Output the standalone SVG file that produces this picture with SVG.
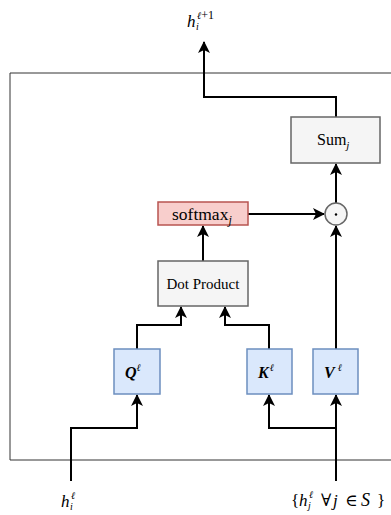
<svg xmlns="http://www.w3.org/2000/svg" width="391" height="515" viewBox="0 0 391 515">
  <style>
    .wire { fill: none; stroke: #000; stroke-width: 2; }
    .grey { fill: #f5f5f5; stroke: #666; stroke-width: 1.5; }
    .red { fill: #f8cecc; stroke: #b85450; stroke-width: 1.5; }
    .blue { fill: #dae8fc; stroke: #6c8ebf; stroke-width: 1.5; }
    text { font-family: "Liberation Serif", "DejaVu Serif", serif; fill: #000; }
    .lbl { text-anchor: middle; }
    .math { font-style: italic; }
  </style>
  <defs>
    <marker id="arrow" viewBox="0 0 12 12" refX="11" refY="6" markerWidth="12" markerHeight="12" markerUnits="userSpaceOnUse" orient="auto">
      <path d="M0,0 L12,6 L0,12 L3,6 Z" fill="#000"/>
    </marker>
  </defs>

  <!-- enclosing layer frame -->
  <path d="M395,73 H10 V460 H395" fill="none" stroke="#333" stroke-width="1"/>

  <g id="connectors">
    <!-- Sum to output -->
    <path class="wire" d="M336,117 V97 H204 V42" marker-end="url(#arrow)"/>
    <!-- product to Sum -->
    <path class="wire" d="M336,203 V164" marker-end="url(#arrow)"/>
    <!-- softmax to product -->
    <path class="wire" d="M248,214 H324" marker-end="url(#arrow)"/>
    <!-- Dot Product to softmax -->
    <path class="wire" d="M203,261 V226" marker-end="url(#arrow)"/>
    <!-- V to product -->
    <path class="wire" d="M336,349 V226" marker-end="url(#arrow)"/>
    <!-- Q to Dot Product -->
    <path class="wire" d="M137,349 V325 H181 V307" marker-end="url(#arrow)"/>
    <!-- K to Dot Product -->
    <path class="wire" d="M269,349 V325 H225 V307" marker-end="url(#arrow)"/>
    <!-- h_i input to Q -->
    <path class="wire" d="M71,481 V428 H137 V395" marker-end="url(#arrow)"/>
    <!-- neighbour set to V and K -->
    <path class="wire" d="M336,481 V395" marker-end="url(#arrow)"/>
    <path class="wire" d="M336,428 H269 V395" marker-end="url(#arrow)"/>
  </g>

  <g id="sum">
    <rect class="grey" x="291" y="117" width="89" height="46"/>
    <text x="317" y="145" font-size="16">Sum<tspan class="math" font-size="11" dy="4">j</tspan></text>
  </g>

  <g id="hadamard">
    <circle class="grey" cx="336" cy="214" r="11"/>
    <circle cx="336" cy="214.5" r="1.2" fill="#000"/>
  </g>

  <g id="softmax">
    <rect class="red" x="158" y="202" width="90" height="23"/>
    <text x="172" y="220" font-size="17.5">softmax<tspan class="math" font-size="12" dy="4">j</tspan></text>
  </g>

  <g id="dot-product">
    <rect class="grey" x="158" y="261" width="90" height="45"/>
    <text class="lbl" x="203" y="289" font-size="15">Dot Product</text>
  </g>

  <g id="query">
    <rect class="blue" x="114" y="349" width="46" height="45"/>
    <text class="math" x="125" y="378" font-size="16" font-weight="bold">Q<tspan font-size="10" dy="-7" font-weight="normal">ℓ</tspan></text>
  </g>

  <g id="key">
    <rect class="blue" x="247" y="349" width="45" height="45"/>
    <text class="math" x="258" y="378" font-size="16" font-weight="bold">K<tspan font-size="10" dy="-7" font-weight="normal" dx="1">ℓ</tspan></text>
  </g>

  <g id="value">
    <rect class="blue" x="313" y="349" width="45" height="45"/>
    <text class="math" x="324" y="378" font-size="16" font-weight="bold">V<tspan font-size="10" dy="-7" font-weight="normal" dx="3">ℓ</tspan></text>
  </g>

  <g id="output-label">
    <text x="187" y="27" font-size="17" class="math">h<tspan font-size="10" x="197" dy="-8">ℓ</tspan><tspan font-size="12" font-style="normal">+1</tspan><tspan font-size="10" x="196" dy="11">i</tspan></text>
  </g>

  <g id="input-label">
    <text x="61" y="507" font-size="17" class="math">h<tspan font-size="10" x="71" dy="-8">ℓ</tspan><tspan font-size="10" x="70" dy="11">i</tspan></text>
  </g>

  <g id="neighbours-label">
    <text x="291" y="506" font-size="17">{<tspan class="math" x="299">h</tspan><tspan class="math" font-size="10" x="309" dy="-8">ℓ</tspan><tspan class="math" font-size="10" x="308" dy="11">j</tspan><tspan x="321" dy="-3">∀</tspan><tspan class="math" x="333">j</tspan><tspan x="345">∈</tspan><tspan class="math" x="361" font-size="18">S</tspan><tspan x="377">}</tspan></text>
  </g>
</svg>
